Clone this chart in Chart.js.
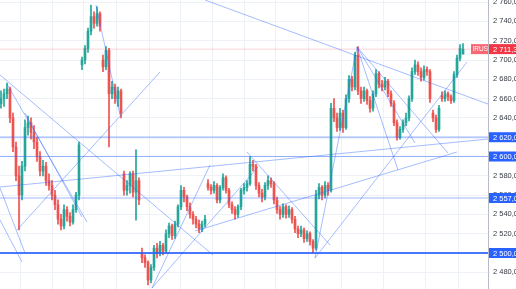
<!DOCTYPE html>
<html><head><meta charset="utf-8">
<script src="https://cdn.jsdelivr.net/npm/chart.js@4.4.0/dist/chart.umd.min.js"></script>
<style>html,body{margin:0;padding:0;background:#fff;overflow:hidden}#wrap{width:516px;height:289px;position:relative}</style>
</head><body><div id="wrap"><canvas id="c"></canvas></div>
<script>
// ---- candle data (IRUS) ----
const opens=[2655,2660,2665,2670,2640,2610,2580,2560,2590,2630,2635,2625,2615,2600,2585,2590,2575,2570,2560,2550,2535,2528,2545,2538,2532,2545,2560,
2695,2700,2712,2730,2745,2738,2748,2700,2693,2710,2665,2672,2660,2668,
2582,2565,2570,2582,2563,2575,
2500,2495,2490,2472,2485,2505,2500,2508,2502,2520,2528,2518,2530,2548,2565,2558,2548,2540,2535,2530,2525,2530,
2572,2568,2565,2570,2555,2568,2578,2565,2550,2545,2540,2548,2565,2568,2572,2592,2590,2570,2562,2558,2570,2575,2572,2555,2545,2540,2548,2540,2545,2535,2525,2520,2524,2515,2520,2512,
2505,2560,2568,2560,2570,2565,2650,2640,2630,2645,2630,2660,2680,2672,2705,2668,2660,2668,2658,2650,2665,2686,2675,2672,2678,2665,2655,2635,2620,2628,2635,2640,2660,2688,2695,2688,2682,2690,2688,
2645,2640,2628,2663,2660,2665,2662,2658,2685,2702,2706];
const highs=[2668,2670,2676,2672,2645,2615,2590,2595,2638,2642,2640,2632,2620,2605,2596,2594,2582,2575,2565,2555,2540,2550,2548,2542,2550,2563,2615,
2703,2715,2733,2757,2750,2755,2750,2705,2714,2712,2678,2675,2672,2670,
2585,2575,2584,2585,2607,2578,
2505,2498,2492,2488,2508,2510,2512,2510,2524,2531,2530,2533,2550,2570,2568,2560,2552,2543,2538,2534,2533,2539,
2576,2571,2574,2572,2570,2582,2580,2567,2553,2548,2550,2567,2572,2575,2600,2596,2592,2573,2566,2573,2580,2578,2574,2558,2548,2551,2550,2549,2547,2538,2528,2528,2526,2523,2522,2514,
2565,2572,2570,2574,2573,2655,2660,2645,2650,2648,2664,2684,2683,2708,2714,2672,2672,2670,2662,2668,2690,2688,2679,2682,2680,2668,2658,2638,2631,2638,2645,2663,2692,2700,2698,2692,2694,2693,2690,
2648,2643,2653,2667,2668,2667,2664,2688,2705,2716,2717];
const lows=[2650,2652,2660,2635,2605,2575,2524,2555,2585,2622,2618,2608,2595,2580,2580,2570,2565,2555,2545,2530,2524,2525,2533,2528,2530,2542,2555,
2690,2696,2708,2726,2733,2735,2730,2688,2690,2610,2660,2655,2652,2640,
2560,2560,2562,2558,2534,2550,
2490,2485,2467,2469,2482,2495,2497,2498,2500,2516,2514,2515,2527,2545,2553,2544,2536,2530,2526,2521,2522,2527,
2565,2561,2562,2552,2552,2565,2562,2547,2541,2535,2537,2545,2561,2564,2570,2585,2566,2558,2553,2555,2566,2568,2551,2541,2535,2537,2536,2537,2531,2521,2516,2517,2511,2512,2508,2500,
2503,2556,2555,2557,2560,2563,2636,2626,2627,2625,2628,2656,2668,2669,2664,2655,2657,2654,2646,2647,2662,2671,2668,2669,2662,2652,2632,2617,2618,2625,2632,2637,2657,2685,2684,2678,2679,2684,2656,
2636,2625,2626,2657,2657,2658,2655,2656,2682,2699,2707];
const closes=[2660,2665,2670,2640,2610,2580,2560,2590,2630,2635,2625,2615,2600,2585,2590,2575,2570,2560,2550,2535,2528,2545,2538,2532,2545,2560,2612,
2700,2712,2730,2745,2738,2748,2735,2693,2710,2665,2672,2660,2668,2645,
2565,2570,2582,2563,2575,2555,
2495,2490,2472,2485,2505,2500,2508,2502,2520,2528,2518,2530,2548,2565,2558,2548,2540,2535,2530,2525,2530,2535,
2568,2565,2570,2555,2568,2578,2565,2550,2545,2540,2548,2565,2568,2572,2592,2590,2570,2562,2558,2570,2575,2572,2555,2545,2540,2548,2540,2545,2535,2525,2520,2524,2515,2520,2512,2505,
2560,2568,2560,2570,2565,2650,2640,2630,2645,2630,2660,2680,2672,2705,2668,2660,2668,2658,2650,2665,2686,2675,2672,2678,2665,2655,2635,2620,2628,2635,2640,2660,2688,2695,2688,2682,2690,2688,2660,
2640,2628,2650,2660,2665,2662,2658,2685,2702,2712,2711.3];

// ---- price axis ----
const priceTicks=[2460,2480,2500,2520,2540,2560,2580,2600,2620,2640,2660,2680,2700,2720,2740,2760];
const levelPrices=[2620,2600,2557,2500];
const lastPrice=2711.3;
const symbol="IRUS";
// vertical grid positions (candle index units)
const timeGrid=[1.33,12,22.33,33,44,54.67,65.33,75.67,86.33,97,108,118.67,136.33,147,157.67];

// ---- drawn trend lines: [startIndex, startPrice, endIndex, endPrice] ----
const trendLines=[
 [68.0,2762.2,162.3,2654.4],
 [-0.33,2684.5,70.67,2497.9],
 [2.0,2675.1,28.67,2532.1],
 [8.0,2645.1,27.0,2537.3],
 [5.33,2523.8,53.0,2687.6],
 [-0.33,2567.4,8.0,2500.0],
 [-0.33,2534.2,7.0,2490.7],
 [-0.33,2568.4,162.33,2618.1],
 [31.67,2757.0,39.67,2643.0],
 [50.33,2463.7,69.67,2591.2],
 [50.33,2463.7,85.67,2589.1],
 [64.67,2522.8,152.0,2604.7],
 [82.0,2604.7,109.67,2508.3],
 [104.67,2494.8,118.67,2713.5],
 [104.67,2494.8,155.33,2697.9],
 [118.67,2713.5,132.33,2586.0],
 [118.67,2713.5,149.0,2603.6],
 [118.67,2713.5,138.0,2614.0]
];

const GREEN='#26a69a', RED='#ef5350';
const idx=closes.map((_,i)=>i);
const isUp=idx.map(i=>closes[i]>=opens[i]);
const XMIN=-0.333, XMAX=162.333;

function fmt(v){
  const s=v.toFixed(2).replace('.',',');
  const [ip,dp]=s.split(',');
  return ip.slice(0,ip.length-3)+' '+ip.slice(-3)+','+dp;
}

const datasets=[];
trendLines.forEach(t=>{
  datasets.push({type:'line',data:[{x:t[0],y:t[1]},{x:t[2],y:t[3]}],borderColor:'rgba(41,98,255,0.42)',borderWidth:1,pointRadius:0,order:0});
});
levelPrices.forEach(p=>{
  const strong=p===2500;
  datasets.push({type:'line',data:[{x:XMIN,y:p},{x:XMAX,y:p}],borderColor:strong?'rgba(41,98,255,0.85)':(p===2620?'rgba(41,98,255,0.3)':'rgba(41,98,255,0.45)'),borderWidth:strong?2:(p===2620?2:1),pointRadius:0,order:0});
});
datasets.push({type:'line',data:[{x:XMIN,y:lastPrice},{x:XMAX,y:lastPrice}],borderColor:'rgba(242,54,69,0.22)',borderWidth:1,pointRadius:0,order:0});
datasets.push({type:'bar',data:idx.map(i=>({x:i,y:[lows[i],highs[i]]})),backgroundColor:idx.map(i=>isUp[i]?GREEN:RED),barThickness:1,grouped:false,order:2});
datasets.push({type:'bar',data:idx.map(i=>({x:i,y:[Math.min(opens[i],closes[i]),Math.max(opens[i],closes[i])]})),backgroundColor:idx.map(i=>isUp[i]?GREEN:RED),barThickness:2,minBarLength:1,grouped:false,order:1});

const labelPlugin={
  id:'priceLabels',
  afterDraw(chart){
    const ctx=chart.ctx, ys=chart.scales.y, L=chart.chartArea.right;
    ctx.save();
    ctx.font='7.5px "Liberation Sans", Arial, sans-serif';
    ctx.textBaseline='middle';
    levelPrices.forEach(p=>{
      const py=ys.getPixelForValue(p);
      ctx.fillStyle='#2962ff';
      ctx.fillRect(L+1,py-5,30,10);
      ctx.fillStyle='#ffffff';
      ctx.fillText(fmt(p),L+5,py+0.5);
    });
    const py=ys.getPixelForValue(lastPrice);
    ctx.fillStyle='#f23645';
    ctx.fillRect(L+1,py-5,30,10);
    ctx.fillStyle='#ffffff';
    ctx.fillText(fmt(lastPrice),L+5,py+0.5);
    ctx.fillStyle='rgba(242,54,69,0.75)';
    ctx.fillRect(L-17,py-5,17,10);
    ctx.fillStyle='#ffffff';
    ctx.font='6.5px "Liberation Sans", Arial, sans-serif';
    ctx.fillText(symbol,L-15.5,py+0.5);
    ctx.restore();
  }
};

new Chart(document.getElementById('c'),{
  data:{datasets},
  options:{
    responsive:true,maintainAspectRatio:false,animation:false,
    layout:{padding:0},
    plugins:{legend:{display:false},tooltip:{enabled:false}},
    scales:{
      x:{type:'linear',min:XMIN,max:XMAX,offset:false,
         grid:{color:'#eef1f8',drawTicks:false},border:{display:false},
         ticks:{display:false},
         afterBuildTicks:s=>{s.ticks=timeGrid.map(v=>({value:v}));},
         afterFit:s=>{s.height=0;s.paddingLeft=0;s.paddingRight=0;}},
      y:{position:'right',min:2462.7,max:2762.2,
         grid:{color:'#eef1f8',drawTicks:false},border:{display:true,color:'#b8bcc6'},
         ticks:{autoSkip:false,padding:5,color:'#363a45',font:{size:7.5,family:'"Liberation Sans", Arial, sans-serif'},callback:v=>fmt(v)},
         afterBuildTicks:s=>{s.ticks=priceTicks.map(v=>({value:v}));},
         afterFit:s=>{s.width=28;s.paddingTop=0;s.paddingBottom=0;}}
    }
  },
  plugins:[labelPlugin]
});
</script></body></html>
